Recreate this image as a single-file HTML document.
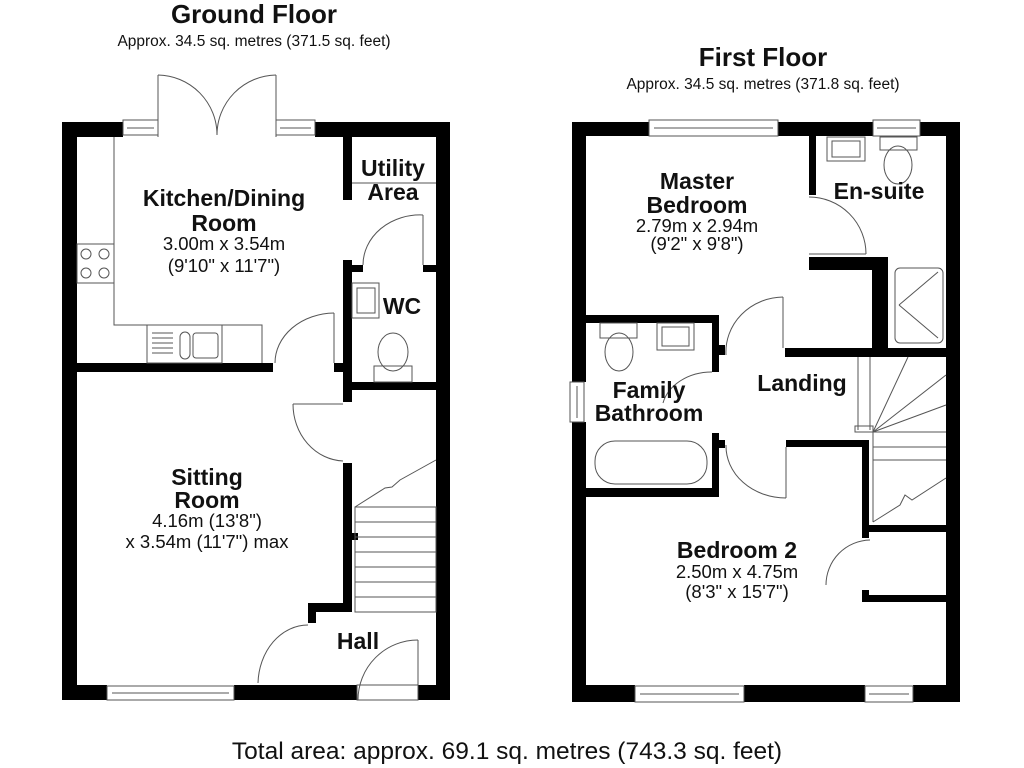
<!DOCTYPE html>
<html><head><meta charset="utf-8"><style>
body{margin:0;background:#fff;}
svg{display:block}
text{font-family:"Liberation Sans",Arial,sans-serif;fill:#111;text-anchor:middle}
.b{font-weight:bold;font-size:23px}
.s{font-size:18.5px}
.t{stroke:#555;stroke-width:1;fill:none}
</style></head><body>
<svg width="1024" height="768" viewBox="0 0 1024 768">
<!-- titles -->
<text x="254" y="23" style="font-weight:bold;font-size:26px">Ground Floor</text>
<text x="254" y="46" style="font-size:15.5px">Approx. 34.5 sq. metres (371.5 sq. feet)</text>
<text x="763" y="66" style="font-weight:bold;font-size:26px">First Floor</text>
<text x="763" y="89" style="font-size:15.5px">Approx. 34.5 sq. metres (371.8 sq. feet)</text>
<text x="507" y="759" style="font-size:24.5px">Total area: approx. 69.1 sq. metres (743.3 sq. feet)</text>

<g fill="#000">
<rect x="62" y="122" width="61" height="15"/>
<rect x="315" y="122" width="135" height="15"/>
<rect x="62" y="122" width="15" height="578"/>
<rect x="436" y="122" width="14" height="578"/>
<rect x="62" y="685" width="45" height="15"/>
<rect x="234" y="685" width="123" height="15"/>
<rect x="418" y="685" width="32" height="15"/>
<rect x="343" y="137" width="9" height="63"/>
<rect x="343" y="260" width="9" height="142"/>
<rect x="343" y="265" width="20" height="7"/>
<rect x="423" y="265" width="13" height="7"/>
<rect x="77" y="363" width="196" height="9"/>
<rect x="334" y="363" width="9" height="9"/>
<rect x="343" y="382" width="93" height="8"/>
<rect x="343" y="463" width="9" height="149"/>
<rect x="308" y="603" width="44" height="9"/>
<rect x="308" y="603" width="8" height="20"/>
<rect x="352" y="533" width="6" height="7"/>
<rect x="572" y="122" width="77" height="14"/>
<rect x="778" y="122" width="95" height="14"/>
<rect x="920" y="122" width="40" height="14"/>
<rect x="572" y="122" width="14" height="260"/>
<rect x="572" y="422" width="14" height="280"/>
<rect x="946" y="122" width="14" height="580"/>
<rect x="572" y="685" width="63" height="17"/>
<rect x="744" y="685" width="121" height="17"/>
<rect x="913" y="685" width="47" height="17"/>
<rect x="809" y="136" width="7" height="59"/>
<rect x="809" y="257" width="79" height="13"/>
<rect x="872" y="257" width="16" height="100"/>
<rect x="785" y="348" width="161" height="9"/>
<rect x="586" y="315" width="133" height="8"/>
<rect x="712" y="315" width="7" height="57"/>
<rect x="719" y="345" width="6" height="10"/>
<rect x="712" y="433" width="7" height="64"/>
<rect x="586" y="488" width="133" height="9"/>
<rect x="719" y="440" width="6" height="8"/>
<rect x="786" y="440" width="81" height="7"/>
<rect x="862" y="440" width="7" height="98"/>
<rect x="869" y="525" width="77" height="7"/>
<rect x="862" y="595" width="84" height="7"/>
<rect x="862" y="590" width="7" height="12"/>
</g>

<g class="t">
<rect x="123" y="120" width="35" height="15"/><line x1="127" y1="128" x2="154" y2="128"/>
<rect x="276" y="120" width="39" height="15"/><line x1="280" y1="128" x2="311" y2="128"/>
<rect x="107" y="686" width="127" height="14"/><line x1="112" y1="693" x2="229" y2="693"/>
<line x1="158" y1="137" x2="158" y2="75"/><path d="M158 75 A60 60 0 0 1 217 135"/>
<line x1="276" y1="137" x2="276" y2="75"/><path d="M276 75 A60 60 0 0 0 217 135"/>
<polyline points="114,137 114,325 262,325 262,363"/>
<rect x="77" y="244" width="37" height="39"/>
<circle cx="86" cy="254" r="5"/><circle cx="104" cy="254" r="5"/><circle cx="86" cy="273" r="5"/><circle cx="104" cy="273" r="5"/>
<rect x="147" y="325" width="75" height="38"/>
<rect x="180" y="332" width="10" height="27" rx="5"/>
<rect x="193" y="333" width="25" height="25" rx="3"/>
<line x1="152" y1="333" x2="173" y2="333"/><line x1="152" y1="338" x2="173" y2="338"/><line x1="152" y1="343" x2="173" y2="343"/><line x1="152" y1="348" x2="173" y2="348"/><line x1="152" y1="353" x2="173" y2="353"/>
<line x1="352" y1="183" x2="436" y2="183"/>
<line x1="423" y1="265" x2="423" y2="215"/><path d="M423 215 A57 50 0 0 0 363 265"/>
<rect x="352" y="283" width="27" height="35"/><rect x="357" y="288" width="18" height="25"/>
<ellipse cx="393" cy="352" rx="15" ry="19"/><rect x="374" y="366" width="38" height="16"/>
<line x1="334" y1="363" x2="334" y2="313"/><path d="M334 313 A60 50 0 0 0 275 363"/>
<line x1="293" y1="404" x2="343" y2="404"/><path d="M293 404 A52 57 0 0 0 343 461"/>
<rect x="355" y="507" width="81" height="105"/>
<line x1="355" y1="522" x2="436" y2="522"/><line x1="355" y1="537" x2="436" y2="537"/><line x1="355" y1="552" x2="436" y2="552"/><line x1="355" y1="567" x2="436" y2="567"/><line x1="355" y1="582" x2="436" y2="582"/><line x1="355" y1="597" x2="436" y2="597"/>
<polyline points="355,507 385,488 392,487 400,480 436,460"/>
<path d="M308 625 A50 60 0 0 0 258 683"/>
<line x1="418" y1="640" x2="418" y2="700"/><path d="M418 640 A60 60 0 0 0 358 700"/>
<rect x="357" y="685" width="61" height="15"/>

<rect x="649" y="120" width="129" height="16"/><line x1="654" y1="128" x2="773" y2="128"/>
<rect x="873" y="120" width="47" height="16"/><line x1="877" y1="128" x2="916" y2="128"/>
<rect x="635" y="686" width="109" height="16"/><line x1="640" y1="694" x2="739" y2="694"/>
<rect x="865" y="686" width="48" height="16"/><line x1="869" y1="694" x2="909" y2="694"/>
<rect x="570" y="382" width="14" height="40"/><line x1="577" y1="386" x2="577" y2="418"/>
<rect x="827" y="137" width="38" height="24"/><rect x="832" y="141" width="28" height="16"/>
<rect x="880" y="137" width="37" height="13"/><ellipse cx="898" cy="165" rx="14" ry="19"/>
<rect x="895" y="268" width="48" height="75" rx="5"/>
<line x1="899" y1="305" x2="938" y2="272"/><line x1="899" y1="305" x2="938" y2="338"/>
<line x1="809" y1="254" x2="866" y2="254"/><path d="M866 254 A57 57 0 0 0 809 197"/>
<rect x="600" y="323" width="37" height="15"/><ellipse cx="619" cy="352" rx="14" ry="19"/>
<rect x="657" y="323" width="37" height="27"/><rect x="662" y="327" width="27" height="19"/>
<rect x="595" y="441" width="112" height="43" rx="20"/>
<path d="M712 372 A50 40 0 0 0 663 403"/>
<line x1="783" y1="297" x2="783" y2="348"/><path d="M783 297 A58 55 0 0 0 726 355"/>
<line x1="786" y1="447" x2="786" y2="498"/><path d="M726 445 A60 52 0 0 0 786 498"/>
<line x1="858" y1="357" x2="858" y2="430"/><line x1="870" y1="357" x2="870" y2="430"/>
<rect x="855" y="426" width="18" height="6"/>
<line x1="873" y1="432" x2="946" y2="432"/><line x1="873" y1="447" x2="946" y2="447"/><line x1="873" y1="460" x2="946" y2="460"/>
<line x1="873" y1="432" x2="873" y2="522"/>
<line x1="873" y1="432" x2="908" y2="357"/><line x1="873" y1="432" x2="946" y2="375"/><line x1="873" y1="432" x2="946" y2="405"/>
<polyline points="873,522 900,505 905,495 912,500 946,478"/>
<path d="M870 540 A45 45 0 0 0 826 585"/>
</g>

<text class="b" x="224" y="206">Kitchen/Dining</text>
<text class="b" x="224" y="231">Room</text>
<text class="s" x="224" y="250">3.00m x 3.54m</text>
<text class="s" x="224" y="272">(9'10" x 11'7")</text>
<text class="b" x="393" y="176">Utility</text>
<text class="b" x="393" y="200">Area</text>
<text class="b" x="402" y="314">WC</text>
<text class="b" x="207" y="485">Sitting</text>
<text class="b" x="207" y="508">Room</text>
<text class="s" x="207" y="527">4.16m (13'8")</text>
<text class="s" x="207" y="548">x 3.54m (11'7") max</text>
<text class="b" x="358" y="649">Hall</text>
<text class="b" x="697" y="189">Master</text>
<text class="b" x="697" y="213">Bedroom</text>
<text class="s" x="697" y="232">2.79m x 2.94m</text>
<text class="s" x="697" y="250">(9'2" x 9'8")</text>
<text class="b" x="879" y="199">En-suite</text>
<text class="b" x="802" y="391">Landing</text>
<text class="b" x="649" y="398">Family</text>
<text class="b" x="649" y="421">Bathroom</text>
<text class="b" x="737" y="558">Bedroom 2</text>
<text class="s" x="737" y="578">2.50m x 4.75m</text>
<text class="s" x="737" y="598">(8'3" x 15'7")</text>
</svg>
</body></html>
